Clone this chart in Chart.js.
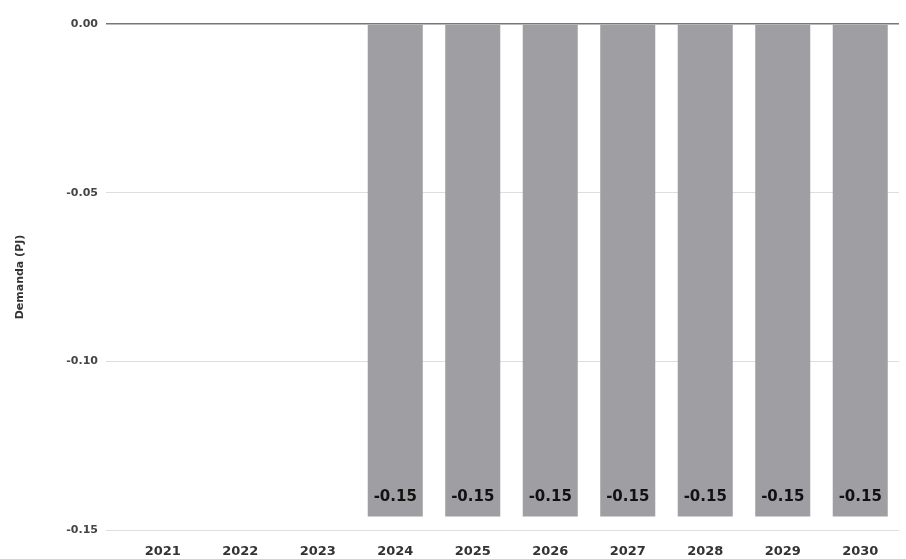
<!DOCTYPE html>
<html>
<head>
<meta charset="utf-8">
<script src="https://cdn.jsdelivr.net/npm/chart.js@4"></script>
<style>
  html, body { margin: 0; padding: 0; background: #fff; }
  #wrap { width: 906px; height: 559px; }
</style>
</head>
<body>
<div id="wrap"><canvas id="chart"></canvas></div>
<script>
// data
const years = ['2021', '2022', '2023', '2024', '2025', '2026', '2027', '2028', '2029', '2030'];
const demand = [null, null, null, -0.146, -0.146, -0.146, -0.146, -0.146, -0.146, -0.146];
const yTicks = [0, -0.05, -0.10, -0.15];

// value labels near the bottom of each bar
const barLabels = {
    id: 'barLabels',
    afterDatasetsDraw(chart) {
        const ctx = chart.ctx;
        const meta = chart.getDatasetMeta(0);
        ctx.save();
        ctx.font = 'bold 15px "DejaVu Sans", sans-serif';
        ctx.fillStyle = '#111';
        ctx.textAlign = 'center';
        ctx.textBaseline = 'middle';
        meta.data.forEach((bar, i) => {
            const v = demand[i];
            if (v == null) return;
            ctx.fillText(v.toFixed(2), bar.x, bar.y - 19);
        });
        ctx.restore();
    }
};

new Chart(document.getElementById('chart'), {
    type: 'bar',
    data: {
        labels: years,
        datasets: [{
            data: demand,
            backgroundColor: '#9f9ea3',
            barPercentage: 0.71,
            categoryPercentage: 1
        }]
    },
    options: {
        responsive: true,
        maintainAspectRatio: false,
        animation: false,
        layout: { padding: { top: 24, right: 7, bottom: 0, left: 0 } },
        plugins: { legend: { display: false }, tooltip: { enabled: false } },
        scales: {
            x: {
                grid: { display: false },
                border: { display: false },
                ticks: { color: '#333', font: { family: '"DejaVu Sans", sans-serif', size: 13, weight: 'bold' }, padding: 6 },
                afterFit: s => { s.height = 29; }
            },
            y: {
                min: -0.15,
                max: 0,
                afterBuildTicks: s => { s.ticks = yTicks.map(v => ({ value: v })); },
                grid: {
                    color: c => c.tick && c.tick.value === 0 ? '#777' : '#dedede',
                    lineWidth: c => c.tick && c.tick.value === 0 ? 1.5 : 1,
                    tickLength: 18
                },
                border: { display: false },
                ticks: {
                    color: '#444',
                    padding: 8,
                    font: { family: '"DejaVu Sans", sans-serif', size: 11, weight: 'bold' },
                    callback: v => v.toFixed(2)
                },
                title: {
                    display: true,
                    text: 'Demanda (PJ)',
                    color: '#333',
                    font: { family: '"DejaVu Sans", sans-serif', size: 11, weight: 'bold' },
                    padding: { top: 14, bottom: 0 }
                },
                afterFit: s => { s.width = 124; }
            }
        }
    },
    plugins: [barLabels]
});
</script>
</body>
</html>
